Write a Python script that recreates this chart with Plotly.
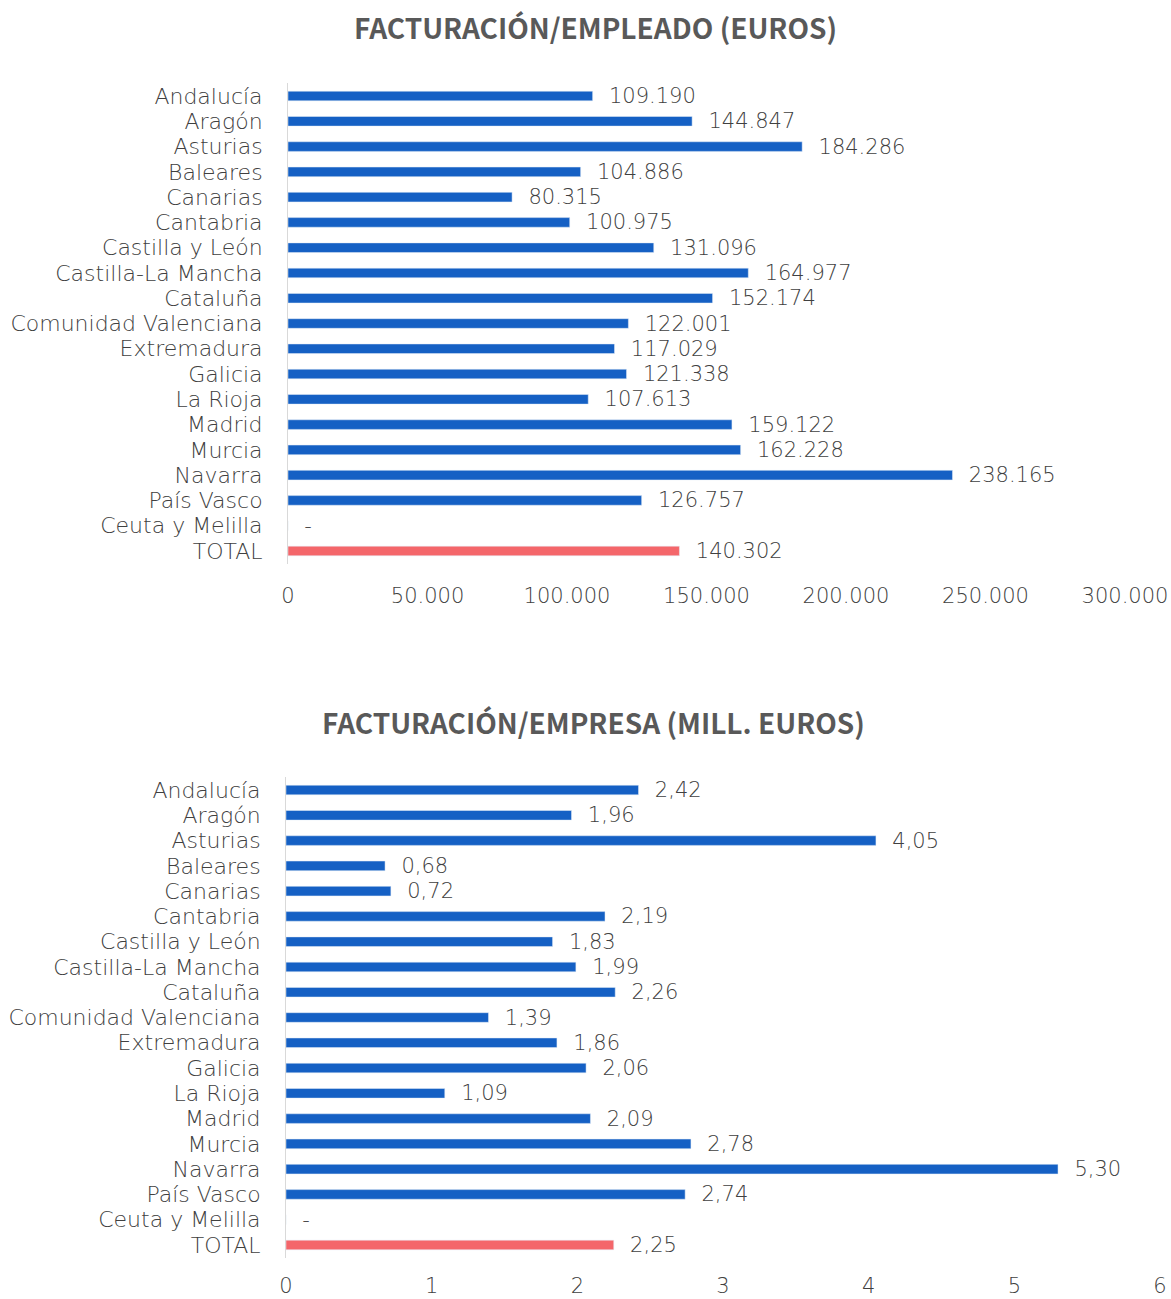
import plotly.graph_objects as go

regiones = ["Andalucía", "Aragón", "Asturias", "Baleares", "Canarias", "Cantabria",
            "Castilla y León", "Castilla-La Mancha", "Cataluña", "Comunidad Valenciana",
            "Extremadura", "Galicia", "La Rioja", "Madrid", "Murcia", "Navarra",
            "País Vasco", "Ceuta y Melilla", "TOTAL"]

fact_empleado = [109190, 144847, 184286, 104886, 80315, 100975, 131096, 164977, 152174,
                 122001, 117029, 121338, 107613, 159122, 162228, 238165, 126757, 0, 140302]

fact_empresa = [2.42, 1.96, 4.05, 0.68, 0.72, 2.19, 1.83, 1.99, 2.26, 1.39, 1.86, 2.06,
                1.09, 2.09, 2.78, 5.30, 2.74, 0, 2.25]

AZUL = "#1560C4"
ROJO = "#F4666A"
GRIS = "#595959"
GRIS_TXT = "#404040"  # la fuente fina se ve más clara, se oscurece un poco
FUENTE_TIT = "Noto Sans CJK JP"
FUENTE = "DejaVu Sans"

W, H = 1171, 1299


def px_x(v):
    return v / W


def px_y(v):
    return 1 - v / H


colores = [ROJO if r == "TOTAL" else AZUL for r in regiones]


def txt_empleado(v):
    return "-" if v == 0 else f"{v:,.0f}".replace(",", ".")


def txt_empresa(v):
    return "-" if v == 0 else f"{v:.2f}".replace(".", ",")


fig = go.Figure()

for xs, textos, ex, ey in [(fact_empleado, [txt_empleado(v) for v in fact_empleado], "x", "y"),
                           (fact_empresa, [txt_empresa(v) for v in fact_empresa], "x2", "y2")]:
    fig.add_trace(go.Bar(
        y=regiones, x=xs, orientation="h", marker_color=colores,
        text=textos, texttemplate="  %{text}",
        textposition="outside", cliponaxis=False, constraintext="none",
        textfont=dict(family=FUENTE, size=21, color=GRIS_TXT, weight=300),
        xaxis=ex, yaxis=ey, hoverinfo="skip",
    ))

eje_x = dict(showgrid=False, zeroline=False, showline=False, ticks="", automargin=False,
             tickfont=dict(family=FUENTE, size=21, color=GRIS_TXT, weight=300))
eje_y = dict(showgrid=False, zeroline=False, showline=True, linecolor="#D9D9D9", linewidth=1,
             autorange="reversed", ticks="", ticklabelstandoff=20, automargin=False,
             tickmode="linear", dtick=1,
             tickfont=dict(family=FUENTE, size=22, color=GRIS_TXT, weight=300))

fig.update_layout(
    width=W, height=H,
    margin=dict(l=0, r=0, t=0, b=0),
    plot_bgcolor="white", paper_bgcolor="white",
    showlegend=False, bargap=0.62,
    separators=",.",
    xaxis=dict(eje_x, domain=[px_x(288), px_x(1125)], range=[0, 300000],
               tickvals=[0, 50000, 100000, 150000, 200000, 250000, 300000],
               tickformat=",d", ticklabelstandoff=17, anchor="y"),
    yaxis=dict(eje_y, domain=[px_y(563.6), px_y(83.4)], anchor="x"),
    xaxis2=dict(eje_x, domain=[px_x(286), px_x(1160)], range=[0, 6],
                tickvals=[0, 1, 2, 3, 4, 5, 6], ticklabelstandoff=13, anchor="y2"),
    yaxis2=dict(eje_y, domain=[px_y(1257.6), px_y(777.4)], anchor="x2"),
    annotations=[
        dict(text="<b>FACTURACIÓN/EMPLEADO (EUROS)</b>", x=px_x(595), y=px_y(27),
             xref="paper", yref="paper", xanchor="center", yanchor="middle", showarrow=False,
             font=dict(family=FUENTE_TIT, size=28, color=GRIS)),
        dict(text="<b>FACTURACIÓN/EMPRESA (MILL. EUROS)</b>", x=px_x(593), y=px_y(722),
             xref="paper", yref="paper", xanchor="center", yanchor="middle", showarrow=False,
             font=dict(family=FUENTE_TIT, size=28, color=GRIS)),
    ],
)

# sin el margen por defecto del body la figura ocupa justo la ventana
fig.write_html("out.html", config={"displayModeBar": False},
               post_script="document.body.style.margin='0';")
